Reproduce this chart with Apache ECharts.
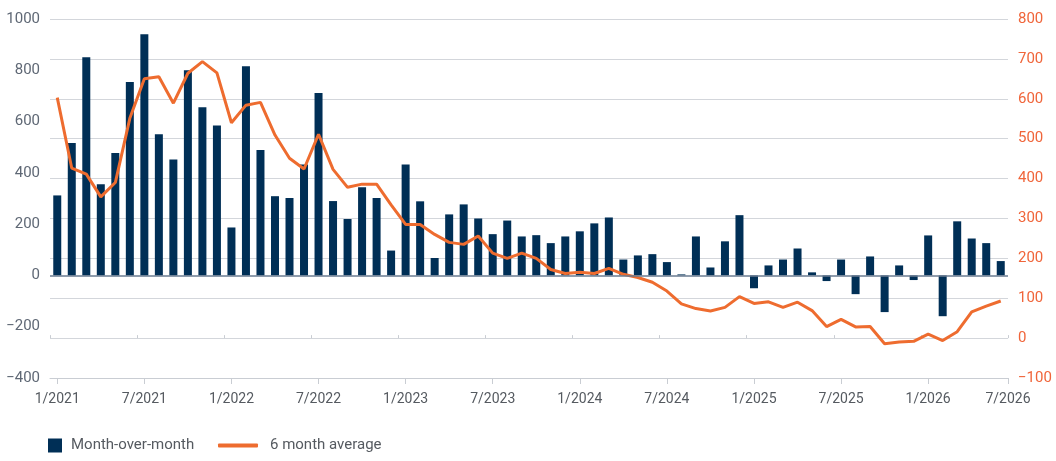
<!DOCTYPE html>
<html><head><meta charset="utf-8">
<script src="https://cdn.jsdelivr.net/npm/echarts@6/dist/echarts.min.js"></script>
<style>html,body{margin:0;padding:0;background:#fff}#c{width:1056px;height:461px}</style>
</head><body><div id="c"></div>
<script>
const categories = [
  '1/2021','2/2021','3/2021','4/2021','5/2021','6/2021','7/2021','8/2021','9/2021','10/2021','11/2021','12/2021',
  '1/2022','2/2022','3/2022','4/2022','5/2022','6/2022','7/2022','8/2022','9/2022','10/2022','11/2022','12/2022',
  '1/2023','2/2023','3/2023','4/2023','5/2023','6/2023','7/2023','8/2023','9/2023','10/2023','11/2023','12/2023',
  '1/2024','2/2024','3/2024','4/2024','5/2024','6/2024','7/2024','8/2024','9/2024','10/2024','11/2024','12/2024',
  '1/2025','2/2025','3/2025','4/2025','5/2025','6/2025','7/2025','8/2025','9/2025','10/2025','11/2025','12/2025',
  '1/2026','2/2026','3/2026','4/2026','5/2026','6/2026'
];
const endLabel = '7/2026';
const monthOverMonth = [312,516,851,356,477,754,941,551,452,800,656,585,187,816,489,309,302,433,711,290,220,344,302,97,433,289,68,238,277,222,161,214,152,157,126,152,172,203,226,62,78,83,52,4,152,31,133,235,-50,39,62,105,12,-22,62,-73,74,-143,39,-18,156,-159,211,144,126,56];
const sixMonthAverage = [603,426,411,354,390,551,650,655,589,664,693,665,540,584,591,509,451,424,511,423,378,386,386,334,285,285,260,240,235,256,213,200,213,200,172,162,165,162,175,160,152,140,118,86,74,68,77,104,87,91,77,90,69,29,47,28,29,-14,-10,-8,10,-6,16,66,80,93];
const leftAxisRange = [-400, 1000, 200];
const rightAxisRange = [-100, 800, 100];
const seriesNames = ['Month-over-month', '6 month average'];

const FONT = 'Roboto, "Liberation Sans", sans-serif';
const minus = v => String(v).replace('-', '\u2212');
const endAxisData = categories.map(() => '').concat([endLabel]);

const chart = echarts.init(document.getElementById('c'), null, {renderer: 'canvas'});
chart.setOption({
  animation: false,
  backgroundColor: '#fff',
  textStyle: {fontFamily: FONT},
  grid: {left: 50, right: 48, top: 19, bottom: 83, containLabel: false},
  legend: [
    {data: [seriesNames[0]], left: 43, top: 433, itemWidth: 14, itemHeight: 14, icon: 'rect',
     textStyle: {fontFamily: FONT, fontSize: 15, color: '#555a60', padding: [0,0,0,4]}},
    {data: [seriesNames[1]], left: 213, top: 433, itemWidth: 40, itemHeight: 4, icon: 'roundRect',
     textStyle: {fontFamily: FONT, fontSize: 15, color: '#555a60', padding: [0,0,0,7]}}
  ],
  xAxis: [
    {type: 'category', data: categories, boundaryGap: true, position: 'bottom',
     axisLine: {show: true, onZero: false, lineStyle: {color: '#c9cdd3', width: 1}},
     axisTick: {show: true, alignWithLabel: true, interval: 5, length: 6, lineStyle: {color: '#c9cdd3'}},
     axisLabel: {interval: 5, margin: 14, fontFamily: FONT, fontSize: 14, color: '#555a60'},
     splitLine: {show: false}},
    {type: 'category', data: endAxisData, boundaryGap: false, position: 'bottom',
     axisLine: {show: false, onZero: false},
     axisTick: {show: true, interval: (i) => i === endAxisData.length - 1, length: 6, lineStyle: {color: '#c9cdd3'}},
     axisLabel: {interval: 0, margin: 14, fontFamily: FONT, fontSize: 14, color: '#555a60'},
     splitLine: {show: false}},
    {type: 'category', data: categories, boundaryGap: true,
     axisLine: {show: false, onZero: true, onZeroAxisIndex: 1},
     axisTick: {show: true, interval: 5, length: 3, lineStyle: {color: '#c9cdd3'}},
     axisLabel: {show: false}, splitLine: {show: false}}
  ],
  yAxis: [
    {type: 'value', position: 'left', min: leftAxisRange[0], max: leftAxisRange[1], interval: leftAxisRange[2],
     axisLine: {show: false}, axisTick: {show: false}, splitLine: {show: false},
     axisLabel: {margin: 10, fontFamily: FONT, fontSize: 15, color: '#5f6875', formatter: minus, padding: [0,0,4,0]}},
    {type: 'value', position: 'right', min: rightAxisRange[0], max: rightAxisRange[1], interval: rightAxisRange[2],
     axisLine: {show: false}, axisTick: {show: false},
     splitLine: {show: true, lineStyle: {color: '#d3d6db', width: 1}},
     axisLabel: {margin: 10, fontFamily: FONT, fontSize: 15, color: '#f0653a', formatter: minus, padding: [0,0,2,0]}}
  ],
  series: [
    {name: seriesNames[0], type: 'bar', xAxisIndex: 0, yAxisIndex: 0, data: monthOverMonth,
     barWidth: 8, itemStyle: {color: '#002f56'},
     markLine: {silent: true, symbol: 'none', label: {show: false},
       lineStyle: {color: '#6a7b90', width: 1.5, type: 'solid'}, data: [{yAxis: 0}]}},
    {name: seriesNames[1], type: 'line', xAxisIndex: 0, yAxisIndex: 1, data: sixMonthAverage,
     symbol: 'none', lineStyle: {color: '#ee6c2f', width: 3}, itemStyle: {color: '#ee6c2f'}, z: 3}
  ]
});
</script></body></html>
